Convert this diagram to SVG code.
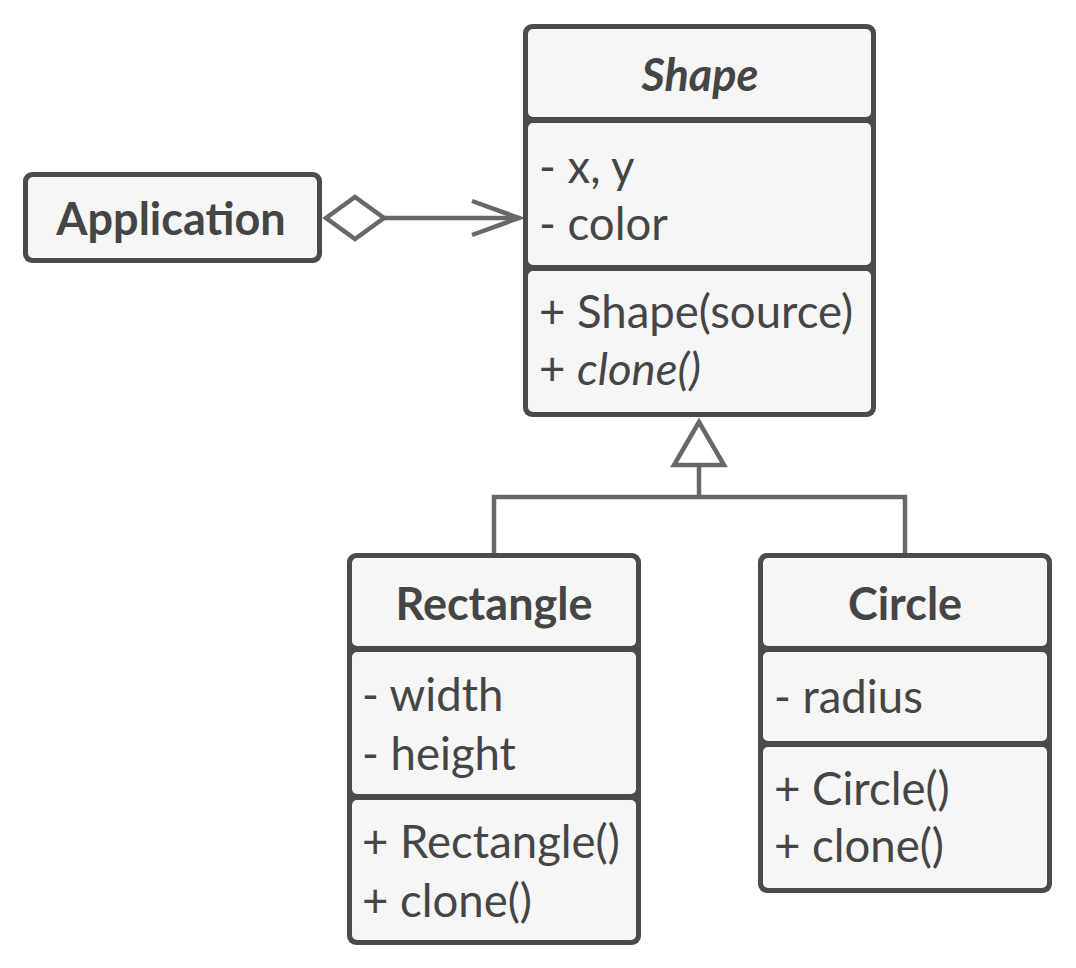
<svg xmlns="http://www.w3.org/2000/svg" width="1076" height="968" viewBox="0 0 1076 968">
<style>
.outer{fill:#4b4b4b}
.comp{fill:#f6f6f6}
.t{font-family:Lato,"Noto Sans",sans-serif;font-size:45.5px;fill:#454545}
.b{font-family:Lato,"Noto Sans",sans-serif;font-size:45px;font-weight:bold;fill:#454545;text-anchor:middle}
.conn{fill:none;stroke:#686868;stroke-width:4.5;stroke-linejoin:miter}
.head{fill:#ffffff;stroke:#686868;stroke-width:4.5}
</style>
<rect width="1076" height="968" fill="#ffffff"/>
<g id="connectors">
  <line class="conn" x1="384" y1="218" x2="519" y2="218"/>
  <polyline class="conn" points="472,201 519,218 472,235"/>
  <polygon class="head" points="326,218 355,197 384,218 355,239"/>
  <path class="conn" d="M699,465 V497 M494,553 V497 H905 V553"/>
  <polygon class="head" points="699,422 674,465 724,465"/>
</g>
<g id="application">
  <rect class="outer" x="23" y="172" width="299" height="91" rx="9"/>
  <rect class="comp" x="28" y="177" width="289" height="81" rx="5"/>
  <text class="b" x="171" y="235">Application</text>
</g>
<g id="shape">
  <rect class="outer" x="523" y="24" width="353" height="393" rx="9"/>
  <rect class="comp" x="528" y="29" width="343" height="88" rx="5"/>
  <rect class="comp" x="528" y="123" width="343" height="142" rx="5"/>
  <rect class="comp" x="528" y="271" width="343" height="141" rx="5"/>
  <text class="b" x="700" y="91" font-style="italic">Shape</text>
  <text class="t" x="539" y="183">- x, y</text>
  <text class="t" x="539" y="240">- color</text>
  <text class="t" x="539" y="328">+ Shape(source)</text>
  <text class="t" x="539" y="385">+ <tspan font-style="italic">clone()</tspan></text>
</g>
<g id="rectangle">
  <rect class="outer" x="347" y="553" width="294" height="392" rx="9"/>
  <rect class="comp" x="352" y="558" width="284" height="88" rx="5"/>
  <rect class="comp" x="352" y="652" width="284" height="142" rx="5"/>
  <rect class="comp" x="352" y="800" width="284" height="140" rx="5"/>
  <text class="b" x="494" y="620">Rectangle</text>
  <text class="t" x="362" y="711">- width</text>
  <text class="t" x="362" y="770">- height</text>
  <text class="t" x="362" y="858">+ Rectangle()</text>
  <text class="t" x="362" y="917">+ clone()</text>
</g>
<g id="circle">
  <rect class="outer" x="758" y="553" width="294" height="340" rx="9"/>
  <rect class="comp" x="763" y="558" width="284" height="88" rx="5"/>
  <rect class="comp" x="763" y="652" width="284" height="89" rx="5"/>
  <rect class="comp" x="763" y="747" width="284" height="141" rx="5"/>
  <text class="b" x="905" y="620">Circle</text>
  <text class="t" x="774" y="713">- radius</text>
  <text class="t" x="774" y="805">+ Circle()</text>
  <text class="t" x="774" y="862">+ clone()</text>
</g>
</svg>
